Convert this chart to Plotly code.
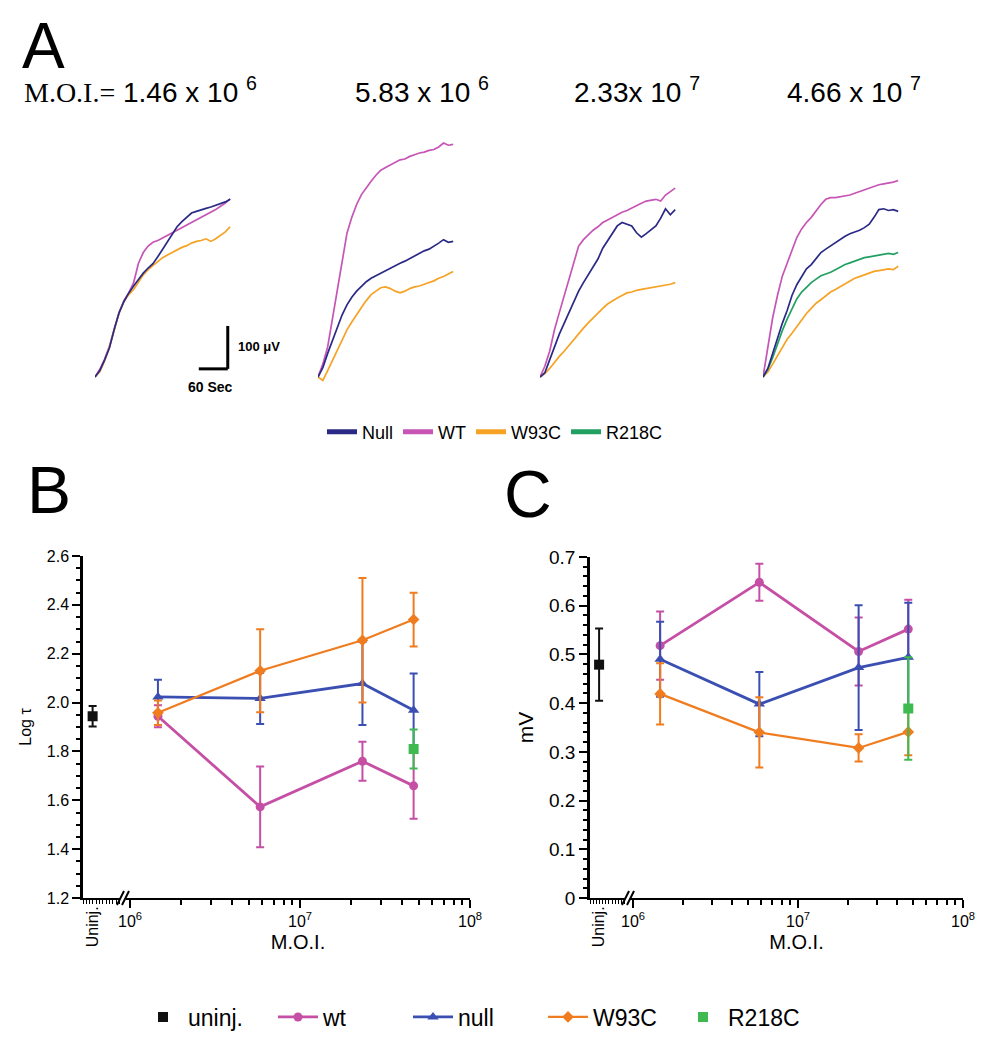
import plotly.graph_objects as go

W, H = 992, 1050
PAGE_OFFSET = 8  # default browser body margin around the plot div
FONT = "Liberation Sans, Arial, sans-serif"
SERIF = "Liberation Serif, Times New Roman, serif"

# ---------------- Panel A data (voltage traces, microvolts vs seconds) ----------------
TIME_S = [0, 10, 20, 30, 40, 50, 60, 70, 80, 90, 100, 110, 120, 130, 140,
          150, 160, 170, 180, 190, 200, 210, 220, 230, 240, 250, 260, 270, 280]

A_MOI_TEXT = ["1.46 x 10", "5.83 x 10", "2.33x 10", "4.66 x 10"]
A_MOI_EXP = ["6", "6", "7", "7"]

A_NULL = [
    [0, 15, 40, 68, 112, 150, 176, 196, 212, 228, 242, 254, 264, 280, 298, 316, 334, 350, 362, 372, 382, 386, 390, 393, 396, 400, 404, 408, 414],
    [0, 22, 55, 85, 118, 145, 168, 186, 200, 212, 222, 230, 236, 242, 248, 254, 260, 265, 270, 276, 282, 288, 294, 298, 304, 312, 320, 314, 316],
    [0, 10, 40, 72, 100, 125, 150, 175, 200, 220, 238, 255, 275, 300, 318, 335, 352, 360, 356, 352, 336, 326, 334, 342, 352, 370, 392, 378, 390],
    [0, 20, 55, 92, 125, 155, 190, 215, 235, 252, 262, 275, 290, 298, 306, 314, 322, 328, 334, 338, 342, 348, 356, 372, 390, 392, 388, 390, 386],
]
A_WT = [
    [0, 18, 42, 72, 112, 150, 178, 196, 220, 265, 290, 305, 314, 318, 324, 330, 336, 342, 348, 354, 359, 366, 372, 378, 384, 390, 398, 405, 415],
    [0, 30, 70, 135, 200, 268, 335, 372, 402, 425, 442, 456, 470, 482, 488, 494, 500, 506, 508, 514, 518, 522, 524, 528, 530, 536, 545, 540, 542],
    [0, 25, 60, 110, 150, 190, 230, 268, 305, 320, 332, 342, 350, 360, 366, 372, 378, 384, 388, 394, 400, 405, 410, 412, 414, 410, 424, 432, 440],
    [0, 70, 138, 190, 235, 265, 295, 325, 345, 360, 372, 388, 402, 414, 418, 418, 420, 422, 424, 428, 432, 436, 440, 444, 448, 450, 452, 454, 458],
]
A_W93C = [
    [0, 12, 38, 70, 110, 150, 176, 192, 204, 222, 238, 250, 260, 270, 278, 284, 290, 296, 302, 306, 312, 316, 318, 322, 316, 322, 330, 338, 350],
    [0, -8, 15, 38, 62, 88, 110, 128, 146, 162, 178, 192, 200, 208, 210, 206, 200, 196, 200, 206, 210, 212, 216, 220, 224, 230, 234, 240, 246],
    [0, 8, 20, 35, 48, 60, 74, 88, 102, 114, 126, 138, 150, 160, 170, 178, 184, 190, 196, 198, 202, 204, 206, 208, 210, 212, 214, 216, 220],
    [0, 12, 30, 50, 70, 88, 102, 118, 134, 148, 160, 172, 180, 190, 198, 204, 210, 216, 224, 230, 234, 238, 242, 246, 248, 250, 252, 250, 258],
]
A_R218C = [
    None, None, None,
    [0, 18, 45, 78, 108, 135, 160, 182, 198, 210, 220, 228, 236, 240, 244, 250, 256, 262, 266, 270, 274, 278, 280, 282, 284, 286, 288, 286, 290],
]
SCALE_T_S = 60
SCALE_V_UV = 100

# ---------------- Panels B / C data ----------------
MOI = [1.46e6, 5.83e6, 2.33e7, 4.66e7]
UNINJ_X = [0]

B_UNINJ, B_UNINJ_ERR = [1.944], [0.042]
B_WT, B_WT_ERR = [1.944, 1.573, 1.760, 1.659], [0.045, 0.165, 0.08, 0.135]
B_NULL, B_NULL_ERR = [2.023, 2.017, 2.078, 1.969], [0.07, 0.105, 0.17, 0.15]
B_W93C, B_W93C_ERR = [1.958, 2.13, 2.255, 2.34], [0.05, 0.17, 0.255, 0.11]
B_R218C, B_R218C_ERR = [1.81], [0.08]

C_UNINJ, C_UNINJ_ERR = [0.479], [0.074]
C_WT, C_WT_ERR = [0.518, 0.648, 0.506, 0.552], [0.07, 0.038, 0.07, 0.06]
C_NULL, C_NULL_ERR = [0.490, 0.398, 0.473, 0.494], [0.077, 0.066, 0.128, 0.112]
C_W93C, C_W93C_ERR = [0.419, 0.340, 0.308, 0.341], [0.063, 0.072, 0.028, 0.048]
C_R218C, C_R218C_ERR = [0.389], [0.105]

LOG_MAJOR = [1e6, 1e7, 1e8]
LOG_MAJOR_TEXT = ["10<sup>6</sup>", "10<sup>7</sup>", "10<sup>8</sup>"]
LOG_MINOR = [m * 10 ** e for e in (6, 7) for m in range(2, 10)]

# colours
A_COL = {"Null": "#2a2a86", "WT": "#c655b6", "W93C": "#f6a224", "R218C": "#22a062"}
COL = {"uninj.": "#111111", "wt": "#c64fa6", "null": "#3b4fb2", "W93C": "#f07c20", "R218C": "#3fba50"}


def fx(px):
    return (px - PAGE_OFFSET) / W


def fy(py):
    return 1 - (py - PAGE_OFFSET) / H


fig = go.Figure()
layout = {"annotations": []}

# ---------------- Panel A ----------------
A_X0 = [95, 318, 540, 763]
A_W = 140
A_T_RANGE = [0, 290]
A_PY = [385, 130]
A_V_RANGE = [-18.6, 575.5]


def a_px(t, k=0):
    return A_X0[k] + (t - A_T_RANGE[0]) / (A_T_RANGE[1] - A_T_RANGE[0]) * A_W


def a_py(v):
    return A_PY[0] - (v - A_V_RANGE[0]) / (A_V_RANGE[1] - A_V_RANGE[0]) * (A_PY[0] - A_PY[1])


for k in range(4):
    xs = "" if k == 0 else str(k + 1)
    layout["xaxis" + xs] = dict(domain=[fx(A_X0[k]), fx(A_X0[k] + A_W)], range=A_T_RANGE,
                                visible=False, anchor="y" + xs, fixedrange=True, automargin=False)
    layout["yaxis" + xs] = dict(domain=[fy(A_PY[0]), fy(A_PY[1])], range=A_V_RANGE,
                                visible=False, anchor="x" + xs, fixedrange=True, automargin=False)
    for name, arr in (("WT", A_WT), ("W93C", A_W93C), ("R218C", A_R218C), ("Null", A_NULL)):
        if arr[k] is None:
            continue
        fig.add_trace(go.Scatter(x=TIME_S, y=arr[k], mode="lines", xaxis="x" + xs, yaxis="y" + xs,
                                 line=dict(color=A_COL[name], width=1.7), showlegend=False,
                                 hoverinfo="skip"))
    first = '<span style="font-family:%s">M.O.I.=</span> ' % SERIF if k == 0 else ""
    left = [22, 353, 572, 785][k]
    layout["annotations"].append(dict(
        text=first + A_MOI_TEXT[k] + " <sup>" + A_MOI_EXP[k] + "</sup>",
        xref="paper", yref="paper", x=fx(left), y=fy(90), xanchor="left", yanchor="middle",
        showarrow=False, font=dict(family=FONT, size=28, color="black")))

# legend entries for panel A
for name in ("Null", "WT", "W93C", "R218C"):
    fig.add_trace(go.Scatter(x=[None], y=[None], mode="lines", name=name, legend="legend2",
                             line=dict(color=A_COL[name], width=5), xaxis="x", yaxis="y"))

# scale bar
corner_t, corner_v = 275, 19
shapes = [
    dict(type="line", xref="x", yref="y", x0=corner_t - SCALE_T_S, x1=corner_t, y0=corner_v, y1=corner_v,
         line=dict(color="black", width=3)),
    dict(type="line", xref="x", yref="y", x0=corner_t, x1=corner_t, y0=corner_v, y1=corner_v + SCALE_V_UV,
         line=dict(color="black", width=3)),
]
layout["annotations"] += [
    dict(text="<b>%d μV</b>" % SCALE_V_UV, xref="paper", yref="paper",
         x=fx(a_px(corner_t) + 8), y=fy(a_py(corner_v + 52)),
         xanchor="left", yanchor="middle", showarrow=False, font=dict(family=FONT, size=13, color="black")),
    dict(text="<b>%d Sec</b>" % SCALE_T_S, xref="paper", yref="paper",
         x=fx(a_px(corner_t - SCALE_T_S / 2) - 3), y=fy(a_py(corner_v) + 18),
         xanchor="center", yanchor="middle", showarrow=False, font=dict(family=FONT, size=14, color="black")),
]


# ---------------- Panels B and C ----------------
def add_panel(xu, xl, ya, uninj, wt, null, w93c, r218c, show):
    def ebar(err, col):
        return dict(type="data", array=err, color=col, thickness=2, width=4, visible=True)
    fig.add_trace(go.Scatter(x=UNINJ_X, y=uninj[0], error_y=ebar(uninj[1], COL["uninj."]),
                             xaxis=xu, yaxis=ya, mode="markers", name="uninj.", showlegend=show,
                             marker=dict(symbol="square", size=10, color=COL["uninj."])))
    fig.add_trace(go.Scatter(x=MOI, y=wt[0], error_y=ebar(wt[1], COL["wt"]), xaxis=xl, yaxis=ya,
                             mode="lines+markers", name="wt", showlegend=show,
                             line=dict(color=COL["wt"], width=2.8),
                             marker=dict(symbol="circle", size=9, color=COL["wt"])))
    fig.add_trace(go.Scatter(x=MOI, y=null[0], error_y=ebar(null[1], COL["null"]), xaxis=xl, yaxis=ya,
                             mode="lines+markers", name="null", showlegend=show,
                             line=dict(color=COL["null"], width=2.8),
                             marker=dict(symbol="triangle-up", size=10, color=COL["null"])))
    fig.add_trace(go.Scatter(x=MOI, y=w93c[0], error_y=ebar(w93c[1], COL["W93C"]), xaxis=xl, yaxis=ya,
                             mode="lines+markers", name="W93C", showlegend=show,
                             line=dict(color=COL["W93C"], width=2.2),
                             marker=dict(symbol="diamond", size=9, color=COL["W93C"])))
    fig.add_trace(go.Scatter(x=MOI[3:], y=r218c[0], error_y=ebar(r218c[1], COL["R218C"]), xaxis=xl, yaxis=ya,
                             mode="markers", name="R218C", showlegend=show,
                             marker=dict(symbol="square", size=10, color=COL["R218C"])))


tickfont = dict(family=FONT, size=16, color="black")
for (xu, xl, ya, ux0, ux1, lx0, lx1, dec0, yrng, ydt, ymin, yfmt, ytitle, yfs, show, data) in (
    ("x5", "x6", "y5", 83, 120, 126, 470, 5.9765, [1.2, 2.6], 0.2, 0.05, ".1f", "Log τ", 16, True,
     ((B_UNINJ, B_UNINJ_ERR), (B_WT, B_WT_ERR), (B_NULL, B_NULL_ERR), (B_W93C, B_W93C_ERR), (B_R218C, B_R218C_ERR))),
    ("x7", "x8", "y6", 590, 625, 630, 963, 5.9818, [0, 0.7], 0.1, 0.02, "", "mV", 19, False,
     ((C_UNINJ, C_UNINJ_ERR), (C_WT, C_WT_ERR), (C_NULL, C_NULL_ERR), (C_W93C, C_W93C_ERR), (C_R218C, C_R218C_ERR))),
):
    ypy_top = 556 if ya == "y5" else 557
    layout["yaxis" + ya[1:]] = dict(
        domain=[fy(898), fy(ypy_top)], range=yrng, anchor=xu, showline=True, linecolor="black", linewidth=2.5,
        ticks="outside", ticklen=8, tickwidth=2, tickcolor="black", dtick=ydt, tick0=0, tickformat=yfmt,
        minor=dict(ticks="outside", ticklen=4, tickwidth=1.5, tickcolor="black", dtick=ymin),
        showgrid=False, zeroline=False, tickfont=dict(family=FONT, size=yfs, color="black"),
        title=dict(text=ytitle, standoff=12 if ya == "y5" else 10,
                   font=dict(family=FONT, size=16 if ya == "y5" else 21, color="black")),
        fixedrange=True, automargin=False)
    layout["xaxis" + xu[1:]] = dict(
        domain=[fx(ux0), fx(ux1)], range=[-0.26, 0.74], anchor=ya, showline=True, linecolor="black",
        linewidth=2, tickmode="array", tickvals=UNINJ_X, ticktext=["Uninj."], tickangle=-90, ticklen=0,
        ticks="outside", tickfont=tickfont,
        minor=dict(ticks="outside", tickmode="linear", tick0=-0.26, dtick=0.09, ticklen=4, tickwidth=1.2,
                   tickcolor="black"),
        showgrid=False, zeroline=False, fixedrange=True, automargin=False)
    layout["xaxis" + xl[1:]] = dict(
        domain=[fx(lx0), fx(lx1)], type="log", range=[dec0, 8], anchor=ya, showline=True, linecolor="black",
        linewidth=2, tickmode="array", tickvals=LOG_MAJOR, ticktext=LOG_MAJOR_TEXT, ticks="outside",
        ticklen=8, tickwidth=2, tickcolor="black", tickfont=tickfont,
        minor=dict(ticks="outside", tickmode="array", tickvals=LOG_MINOR, ticklen=5, tickwidth=1.5,
                   tickcolor="black"),
        title=dict(text="M.O.I.", standoff=6, font=dict(family=FONT, size=20, color="black")),
        showgrid=False, zeroline=False, fixedrange=True, automargin=False)
    add_panel(xu, xl, ya, *data, show=show)
    # axis break marks
    bx = ux1 - 1
    for off in (0, 5):
        shapes.append(dict(type="line", xref="paper", yref="paper", x0=fx(bx + off - 2), x1=fx(bx + off + 5),
                           y0=fy(905), y1=fy(891), line=dict(color="black", width=2)))

# panel letters
layout["annotations"].append(dict(text="A", xref="paper", yref="paper", x=fx(20), y=1.0,
                                  xanchor="left", yanchor="top", showarrow=False,
                                  font=dict(family=FONT, size=64, color="black")))
for letter, lx, ly in (("B", 25, 490), ("C", 502, 494)):
    layout["annotations"].append(dict(text=letter, xref="paper", yref="paper", x=fx(lx), y=fy(ly),
                                      xanchor="left", yanchor="middle", showarrow=False,
                                      font=dict(family=FONT, size=66, color="black")))

layout.update(
    width=W, height=H, margin=dict(l=0, r=0, t=0, b=0, autoexpand=False), paper_bgcolor="white",
    plot_bgcolor="white", font=dict(family=FONT, color="black"), hovermode=False, shapes=shapes,
    legend=dict(orientation="h", x=fx(138), y=fy(1017), xanchor="left", yanchor="middle",
                font=dict(family=FONT, size=23, color="black"), traceorder="normal", itemwidth=40,
                entrywidth=80),
    legend2=dict(orientation="h", x=fx(322), y=fy(432), xanchor="left", yanchor="middle",
                 font=dict(family=FONT, size=18, color="black"), traceorder="normal", itemwidth=30),
)
fig.update_layout(**layout)
fig.write_html("out.html")
